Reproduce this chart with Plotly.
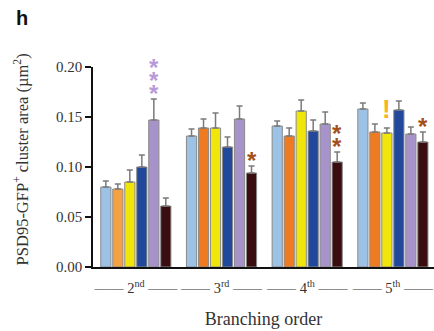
import plotly.graph_objects as go

# ---- data ----
groups = ["2nd", "3rd", "4th", "5th"]
tick_labels = ["—— 2<sup>nd</sup> ——", "—— 3<sup>rd</sup> ——",
               "—— 4<sup>th</sup> ——", "—— 5<sup>th</sup> ——"]
y_ticks = [0.0, 0.05, 0.10, 0.15, 0.20]

series_names = ["light blue", "orange", "yellow", "dark blue", "lavender", "dark brown"]
s1 = [0.080, 0.131, 0.141, 0.158]
s2 = [0.078, 0.139, 0.131, 0.135]
s3 = [0.085, 0.139, 0.156, 0.134]
s4 = [0.100, 0.120, 0.136, 0.157]
s5 = [0.147, 0.148, 0.143, 0.133]
s6 = [0.061, 0.094, 0.105, 0.125]
e1 = [0.006, 0.007, 0.005, 0.006]
e2 = [0.005, 0.009, 0.008, 0.008]
e3 = [0.012, 0.015, 0.011, 0.005]
e4 = [0.012, 0.010, 0.011, 0.009]
e5 = [0.021, 0.013, 0.012, 0.007]
e6 = [0.008, 0.007, 0.010, 0.010]

# significance markers: (group index, series index, symbol, count, colour)
sig_group = [0, 1, 2, 3, 3]
sig_series = [4, 5, 5, 2, 5]
sig_symbol = ["*", "*", "*", "!", "*"]
sig_count = [3, 1, 2, 1, 1]

values = [s1, s2, s3, s4, s5, s6]
errors = [e1, e2, e3, e4, e5, e6]
colors = ["#9cc2e5", ["#f4a043", "#ee7b22", "#ee7b22", "#ee7b22"], "#f1e60c",
          "#21489a", "#a793c9", "#3a0e10"]
sig_colors = ["#b99ad9", "#a5501c", "#a5501c", "#f7b421", "#a5501c"]

serif = "Liberation Serif"

fig = go.Figure()
for name, v, e, c in zip(series_names, values, errors, colors):
    fig.add_trace(go.Bar(
        x=groups, y=v, name=name,
        marker=dict(color=c, line=dict(color="#8a8a8a", width=1)),
        error_y=dict(type="data", array=e, arrayminus=[0] * len(e), symmetric=False,
                     color="#7a7a7a", thickness=1.5, width=3),
    ))

# significance annotations placed above the error bar of the relevant bar
n_series = len(values)
bargap = 0.16
slot = (1 - bargap) / n_series
for g, s, sym, n, c in zip(sig_group, sig_series, sig_symbol, sig_count, sig_colors):
    xc = g + (s - (n_series - 1) / 2) * slot
    ytop = values[s][g] + errors[s][g]
    if sym == "!":
        fig.add_annotation(x=xc, y=ytop, xref="x", yref="y", text="<b>!</b>",
                           showarrow=False, yanchor="bottom", yshift=2,
                           font=dict(family="Liberation Sans", size=26, color=c))
    else:
        for k in range(n):
            fig.add_annotation(x=xc, y=ytop, xref="x", yref="y", text="<b>*</b>",
                               showarrow=False, yanchor="middle", yshift=6 + 13 * k,
                               font=dict(family="Liberation Sans", size=24, color=c))

fig.add_annotation(text="<b>h</b>", xref="paper", yref="paper", x=-0.208, y=1.245,
                   xanchor="center", yanchor="middle", showarrow=False,
                   font=dict(family="Liberation Sans", size=20, color="#111"))

fig.add_annotation(text="PSD95-GFP<sup>+</sup> cluster area (µm<sup>2</sup>)",
                   xref="paper", yref="paper", x=-0.21, y=0.54, textangle=-90,
                   xanchor="center", yanchor="middle", showarrow=False,
                   font=dict(family=serif, size=16.5, color="#333"))

fig.update_layout(
    width=434, height=331,
    margin=dict(l=93, r=0, t=67, b=64),
    paper_bgcolor="white", plot_bgcolor="white",
    barmode="group", bargap=bargap, bargroupgap=0.15,
    showlegend=False,
    xaxis=dict(type="category", tickvals=groups, ticktext=tick_labels,
               range=[-0.5, 3.48], showline=True, linecolor="#111", linewidth=1.5,
               ticks="outside", ticklen=7, tickcolor="rgba(0,0,0,0)",
               automargin=False,
               tickfont=dict(family=serif, size=14.5, color="#333"),
               title=dict(text="Branching order", standoff=17,
                          font=dict(family=serif, size=18, color="#333"))),
    yaxis=dict(range=[0, 0.2], tickvals=y_ticks, tickformat=".2f",
               showline=True, linecolor="#111", linewidth=1.5,
               ticks="outside", ticklen=6, tickcolor="#111", tickwidth=1.5,
               showgrid=False, zeroline=False, automargin=False,
               tickfont=dict(family=serif, size=15, color="#333")),
)

fig.write_html("out.html", config={"displayModeBar": False},
               post_script="document.body.style.margin='0';document.body.style.overflow='hidden';")
